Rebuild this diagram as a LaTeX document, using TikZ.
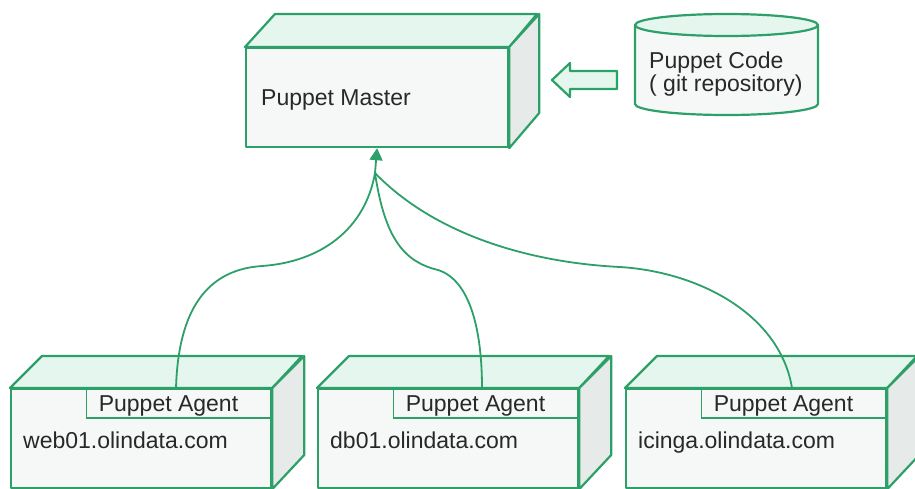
\documentclass[tikz,border=0pt]{standalone}
\usepackage{fontspec}
\setmainfont{Liberation Sans}
\usetikzlibrary{arrows.meta,calc}
\definecolor{edge}{RGB}{45,160,105}
\definecolor{frontfill}{RGB}{246,248,247}
\definecolor{topfill}{RGB}{228,246,237}
\definecolor{sidefill}{RGB}{230,234,232}
\definecolor{txt}{RGB}{40,40,40}
\begin{document}
\begin{tikzpicture}[x=1pt,y=-1pt,
  face/.style={draw=edge, line width=2.2pt, line join=round},
  front/.style={face, fill=frontfill, rectangle, inner sep=0pt, anchor=north west},
  lbl/.style={font=\fontsize{23}{27}\selectfont, text=txt, inner sep=0pt},
  conn/.style={draw=edge, line width=1.8pt},
  inner/.style={draw=edge, line width=1.6pt, rectangle, inner sep=0pt, minimum height=29pt, anchor=north east}]
\useasboundingbox (0,0) rectangle (915,488);
\fill[white] (0,0) rectangle (915,488);

% Puppet Master box
\node[front, minimum width=262pt, minimum height=99pt] (master) at (245,47) {};
\draw[face, fill=topfill] (master.north west) -- ++(30,-33) -- ++(262,0) -- (master.north east) -- cycle;
\draw[face, fill=sidefill] (master.north east) -- ++(30,-33) -- ++(0,99) -- (master.south east) -- cycle;
\node[lbl, anchor=base west] (mastertxt) at (261,105) {Puppet Master};

% Puppet Code cylinder
\draw[face, fill=frontfill] (635,25) -- (635,104) arc[start angle=180, end angle=0, x radius=91.5, y radius=11] -- (818,25) -- cycle;
\draw[face, fill=topfill] (726.5,25) ellipse [x radius=91.5, y radius=11];
\node[lbl, anchor=base west] (code1) at (649,68) {Puppet Code};
\node[lbl, anchor=base west] (code2) at (649,91) {( git repository)};

% hollow arrow
\draw[face, fill=topfill] (552,80) -- (570,63) -- (570,71) -- (617,71) -- (617,89) -- (570,89) -- (570,97) -- cycle;

% Agent boxes
\foreach \n/\x/\host in {a/10/web01.olindata.com, b/317/db01.olindata.com, c/625/icinga.olindata.com}{
  \node[front, minimum width=260pt, minimum height=99pt] (\n) at (\x,388) {};
  \draw[face, fill=topfill] (\n.north west) -- ++(32,-32) -- ++(260,0) -- (\n.north east) -- cycle;
  \draw[face, fill=sidefill] (\n.north east) -- ++(32,-32) -- ++(0,99) -- (\n.south east) -- cycle;
  \node[inner, minimum width=185pt] (\n pa) at (\n.north east) {};
  \node[lbl, anchor=base west] (\n pat) at ($(\n pa.north west)+(13,23)$) {Puppet Agent};
  \node[lbl, anchor=base west] (\n host) at ($(\n.north west)+(13,60)$) {\host};
}

% connectors
\coordinate (hub) at (375,173);
\coordinate (ea) at ($(a.north west)+(166,0)$);
\coordinate (eb) at ($(b.north west)+(165,0)$);
\coordinate (ec) at ($(c.north west)+(167,0)$);
\draw[conn] (ea) .. controls (178,320) and (200,270) .. (262,266) .. controls (320,262) and (365,230) .. (hub);
\draw[conn] (eb) .. controls (482,330) and (470,280) .. (438,270) .. controls (405,262) and (385,240) .. (hub);
\draw[conn] (ec) .. controls (780,315) and (700,272) .. (620,267) .. controls (520,262) and (430,230) .. (hub);
\draw[conn, -{Triangle[length=12pt,width=13pt]}] (hub) -- (master.south);
\end{tikzpicture}
\end{document}
